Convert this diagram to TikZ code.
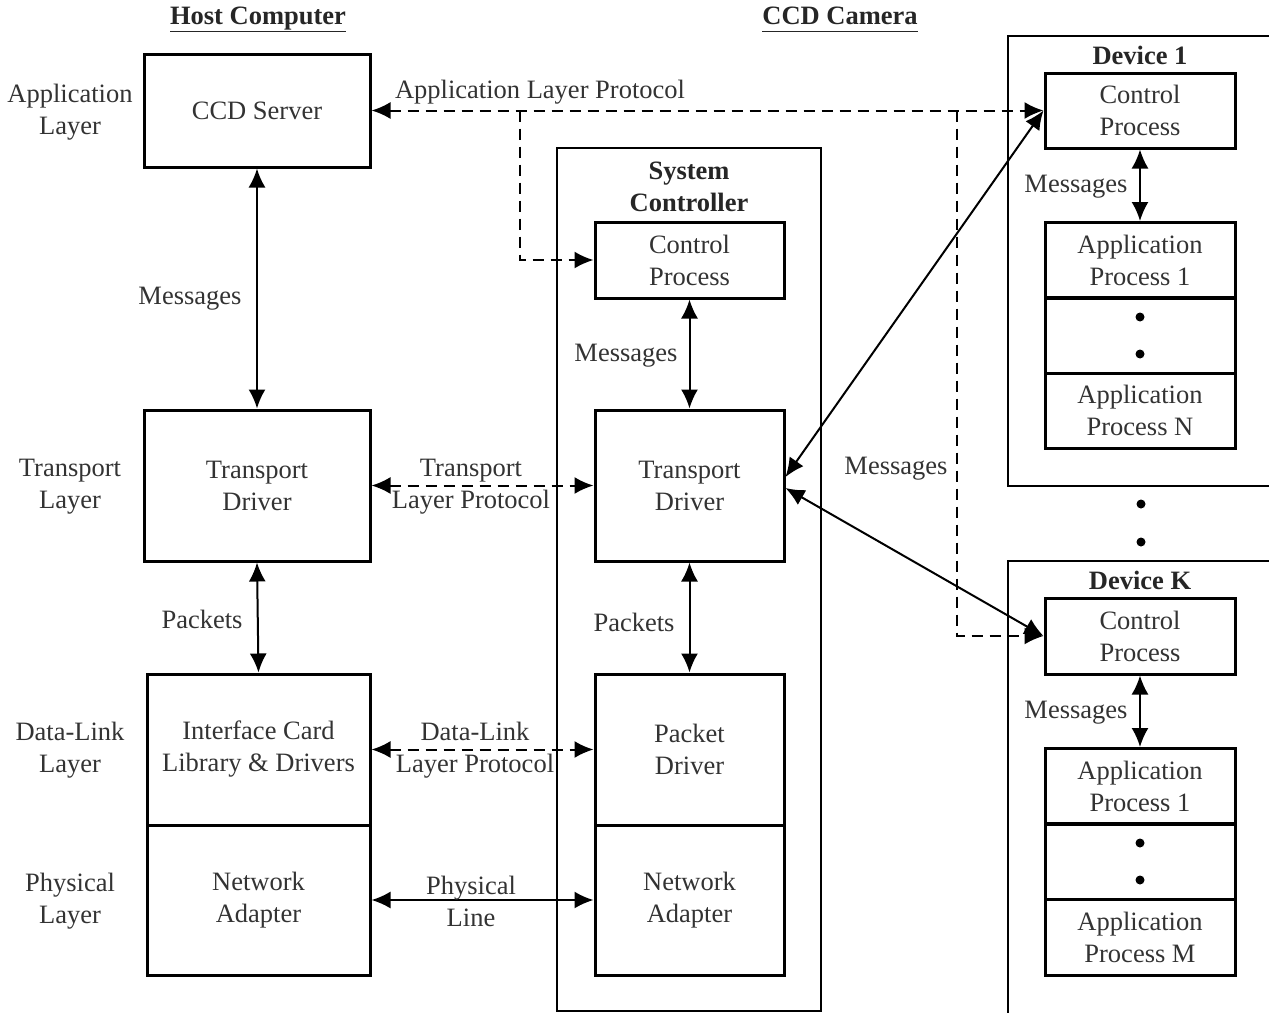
\documentclass[tikz,border=0pt]{standalone}
\usepackage{fontspec}
\setmainfont{Liberation Serif}
\usetikzlibrary{arrows.meta}
\begin{document}
\begin{tikzpicture}[x=1pt,y=-1pt,
  font=\fontsize{26.5}{32}\selectfont,
  txt/.style={text=black!80, align=center, inner sep=0pt},
  ttl/.style={text=black!85, align=center, inner sep=0pt, font=\fontsize{26.5}{32}\selectfont\bfseries},
  box/.style={draw, line width=3pt, align=center, text=black!80, inner sep=0pt, minimum width=#1},
  box/.default=189pt,
  outerbox/.style={draw, line width=2pt},
  tip/.tip={Latex[length=19pt,width=17pt]},
  arr/.style={line width=2pt, tip-tip},
  arrone/.style={line width=2pt, -tip},
  dsh/.style={dash pattern=on 11pt off 7pt},
  dot/.style={fill=black, circle, inner sep=0pt, minimum size=9pt}
]
\useasboundingbox (0,0) rectangle (1269,1012);

% headers
\node[ttl, anchor=base] (hhost) at (258,24) {\underline{Host Computer}};
\node[ttl, anchor=base] (hcam) at (840,24) {\underline{CCD Camera\vphantom{p}}};

% layer labels
\node[txt] (lapp) at (70,112) {Application\\Layer};
\node[txt] (ltra) at (70,487) {Transport\\Layer};
\node[txt] (ldl) at (70,750) {Data-Link\\Layer};
\node[txt] (lphy) at (70,901) {Physical\\Layer};

% outer containers
\draw[outerbox] (557,148) rectangle (821,1011);
\node[ttl] (tsc) at (689,187) {System\\Controller};
\draw[outerbox] (1275,36) -- (1008,36) -- (1008,486) -- (1275,486);
\node[ttl] (td1) at (1140,55) {Device 1};
\draw[outerbox] (1275,561) -- (1008,561) -- (1008,1020);
\node[ttl] (tdk) at (1140,580) {Device K};

% host boxes
\node[box=226pt, minimum height=113pt] (ccd) at (257,110.5) {CCD Server};
\node[box=226pt, minimum height=151pt] (htd) at (257,485.5) {Transport\\Driver};
\node[box=223pt, minimum height=151pt] (hic) at (258.5,749.5) {Interface Card\\Library \& Drivers};
\node[box=223pt, minimum height=150pt] (hna) at (258.5,900) {Network\\Adapter};

% system controller boxes
\node[box, minimum height=76pt] (scc) at (689.5,260) {Control\\Process};
\node[box, minimum height=151pt] (std) at (689.5,485.5) {Transport\\Driver};
\node[box, minimum height=151pt] (spd) at (689.5,749.5) {Packet\\Driver};
\node[box, minimum height=150pt] (sna) at (689.5,900) {Network\\Adapter};

% device 1
\node[box=190pt, minimum height=75pt] (d1c) at (1140,110.5) {Control\\Process};
\node[box=190pt, minimum height=75pt] (d1a) at (1140,260) {Application\\Process 1};
\node[box=190pt, minimum height=75pt] (d1d) at (1140,335.5) {};
\node[box=190pt, minimum height=75pt] (d1n) at (1140,410.5) {Application\\Process N};
\node[dot] (d1p1) at (1140,317) {};
\node[dot] (d1p2) at (1140,354) {};

% dots between devices
\node[dot] (mp1) at (1141,504) {};
\node[dot] (mp2) at (1141,542) {};

% device K
\node[box=190pt, minimum height=76pt] (dkc) at (1140,636) {Control\\Process};
\node[box=190pt, minimum height=75pt] (dka) at (1140,786) {Application\\Process 1};
\node[box=190pt, minimum height=75pt] (dkd) at (1140,861.5) {};
\node[box=190pt, minimum height=76pt] (dkm) at (1140,937) {Application\\Process M};
\node[dot] (dkp1) at (1140,843) {};
\node[dot] (dkp2) at (1140,880) {};

% vertical message / packet arrows
\draw[arr] (ccd.south) -- (htd.north);
\node[txt] (m1) at (190,299) {Messages};
\draw[arr] (htd.south) -- (hic.north);
\node[txt] (p1) at (202,619) {Packets};
\draw[arr] (scc.south) -- (std.north);
\node[txt] (m2) at (626,356) {Messages};
\draw[arr] (std.south) -- (spd.north);
\node[txt] (p2) at (634,622) {Packets};
\draw[arr] (d1c.south) -- (d1a.north);
\node[txt] (m3) at (1076,187) {Messages};
\draw[arr] (dkc.south) -- (dka.north);
\node[txt] (m4) at (1076,713) {Messages};

% protocol arrows
\draw[arr, dsh] (ccd.east) -- (d1c.west);
\node[txt] (lalp) at (540,92) {Application Layer Protocol};
\coordinate (b1) at (520,110.5);
\coordinate (b1d) at (520,260);
\draw[arrone, dsh] (b1) -- (b1d) -- (scc.west);
\coordinate (b2) at (957,110.5);
\coordinate (b2d) at (957,636);
\draw[arrone, dsh] (b2) -- (b2d) -- (dkc.west);

\draw[arr, dsh] (htd.east) -- (std.west);
\node[txt] (ltlp) at (471,487) {Transport\\Layer Protocol};
\draw[arr, dsh] (hic.east) -- (spd.west);
\node[txt] (ldlp) at (475,750.5) {Data-Link\\Layer Protocol};
\draw[arr] (hna.east) -- (sna.west);
\node[txt] (lpl) at (471,901) {Physical\\Line};

% diagonal messages
\draw[arr] ([yshift=8.5pt]std.east) -- (d1c.west);
\draw[arr] ([yshift=-2.5pt]std.east) -- (dkc.west);
\node[txt] (m5) at (896,469) {Messages};
\end{tikzpicture}
\end{document}
